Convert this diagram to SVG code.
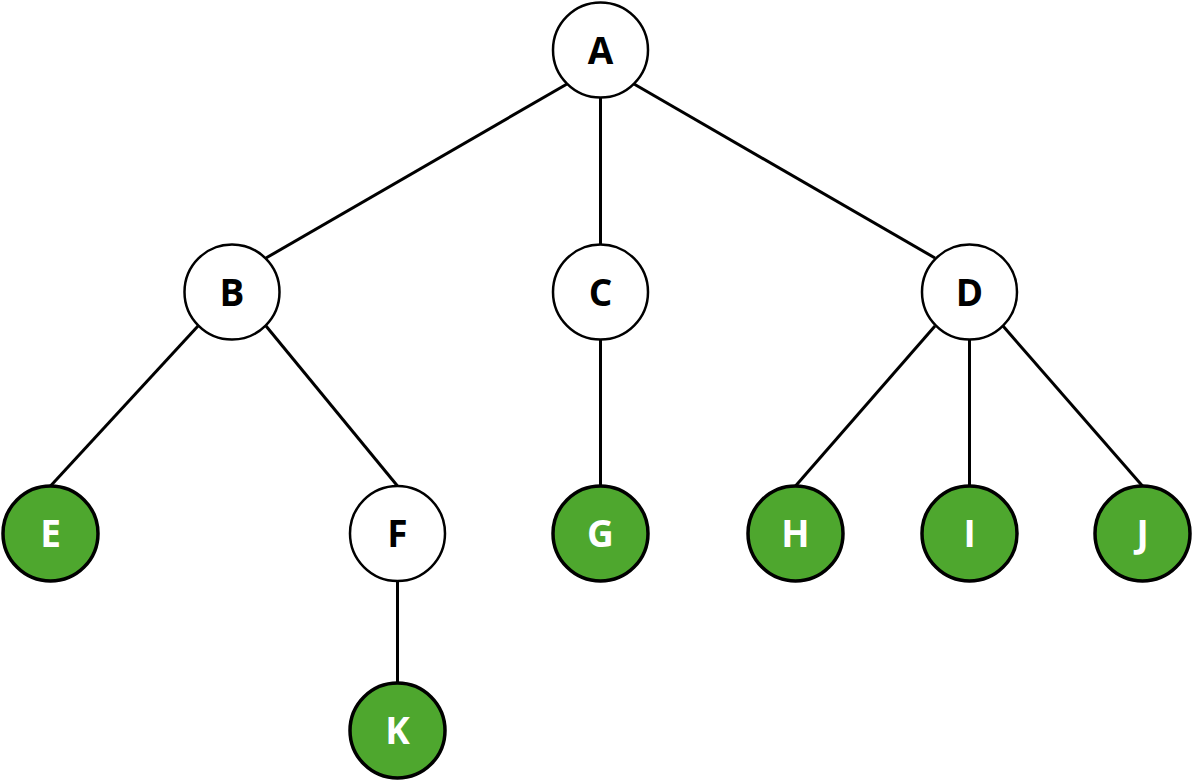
<svg xmlns="http://www.w3.org/2000/svg" width="1193" height="781" viewBox="0 0 1193 781">
<style>
.edge{stroke:#000;stroke-width:3;fill:none}
.w circle{fill:#fff;stroke:#000;stroke-width:2.5}
.g circle{fill:#4ea72e;stroke:#000;stroke-width:3.5}
text{font-family:"Open Sans","Noto Sans",sans-serif;font-weight:bold;font-size:37px;text-anchor:middle}
.w text{fill:#000}
.g text{fill:#fff}
</style>
<rect width="1193" height="781" fill="#fff"/>
<g id="connectors">
<line class="edge" x1="567" y1="84" x2="266" y2="258"/>
<line class="edge" x1="600.5" y1="98" x2="600.5" y2="244"/>
<line class="edge" x1="634" y1="84" x2="935" y2="258"/>
<line class="edge" x1="198" y1="326" x2="50.5" y2="486"/>
<line class="edge" x1="266" y1="326" x2="397.5" y2="486"/>
<line class="edge" x1="600.5" y1="340" x2="600.5" y2="486"/>
<line class="edge" x1="935" y1="326" x2="795.5" y2="486"/>
<line class="edge" x1="969.5" y1="340" x2="969.5" y2="486"/>
<line class="edge" x1="1003" y1="326" x2="1142.5" y2="486"/>
<line class="edge" x1="397.5" y1="581" x2="397.5" y2="683"/>
</g>
<g id="A" class="w"><circle cx="600.5" cy="50" r="47.5"/><text x="600.5" y="63.5">A</text></g>
<g id="B" class="w"><circle cx="232" cy="292" r="47.5"/><text x="232" y="305.5">B</text></g>
<g id="C" class="w"><circle cx="600.5" cy="292" r="47.5"/><text x="600.5" y="305.5">C</text></g>
<g id="D" class="w"><circle cx="969.5" cy="292" r="47.5"/><text x="969.5" y="305.5">D</text></g>
<g id="E" class="g"><circle cx="50.5" cy="533.5" r="47.5"/><text x="50.5" y="547">E</text></g>
<g id="F" class="w"><circle cx="397.5" cy="533.5" r="47.5"/><text x="397.5" y="547">F</text></g>
<g id="G" class="g"><circle cx="600.5" cy="533.5" r="47.5"/><text x="600.5" y="547">G</text></g>
<g id="H" class="g"><circle cx="795.5" cy="533.5" r="47.5"/><text x="795.5" y="547">H</text></g>
<g id="I" class="g"><circle cx="969.5" cy="533.5" r="47.5"/><text x="969.5" y="547">I</text></g>
<g id="J" class="g"><circle cx="1142.5" cy="533.5" r="47.5"/><text x="1142.5" y="547">J</text></g>
<g id="K" class="g"><circle cx="397.5" cy="730.5" r="47.5"/><text x="397.5" y="744">K</text></g>
</svg>
